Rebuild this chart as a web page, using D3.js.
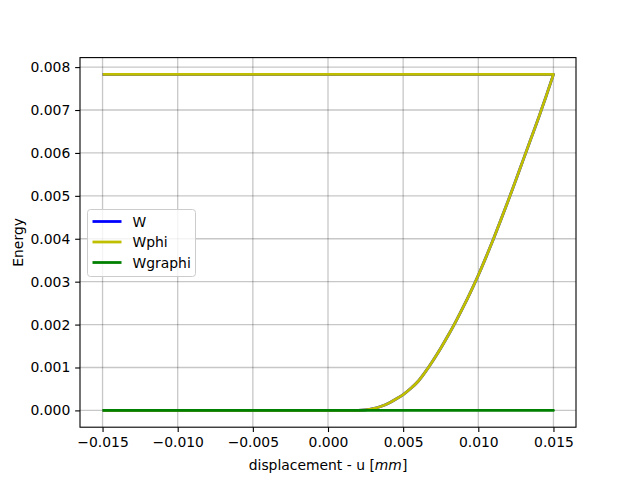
<!DOCTYPE html>
<html lang="en">
<head>
  <meta charset="UTF-8">
  <title>Energy vs displacement</title>
  <script src="https://d3js.org/d3.v7.min.js"></script>
  <style>
    body { margin: 0; background: white; }
    svg { display: block; font-family: "DejaVu Sans", sans-serif; }
    .tick text { font-size: 13.9px; fill: #000; }
    .grid line { stroke: #000; stroke-opacity: 0.22; stroke-width: 1.3px; }
    path.series { fill: none; stroke-width: 2.78px; stroke-linejoin: round; }
  </style>
</head>
<body>
<svg width="640" height="480"></svg>
<script>
// values
const uLoad = [-0.015, -0.010, -0.005, 0.000, 0.001, 0.0015, 0.002, 0.0025, 0.003, 0.0035, 0.004, 0.0045,
  0.005, 0.0055, 0.006, 0.0065, 0.007, 0.0075, 0.008, 0.0085, 0.009, 0.0095, 0.010,
  0.0105, 0.011, 0.0115, 0.012, 0.0125, 0.013, 0.0135, 0.014, 0.0145, 0.015];
const wLoad = [0, 0, 0, 0, 0, 0, 0.000002, 0.000012, 0.00004, 0.00009, 0.00016, 0.00026,
  0.00037, 0.00051, 0.00068, 0.00091, 0.00117, 0.00145, 0.00175, 0.00207, 0.00241, 0.00277, 0.00315,
  0.00356, 0.00399, 0.00444, 0.0049, 0.00537, 0.00585, 0.00633, 0.00681, 0.00731, 0.00783];
// unloading branch: back along the top
const uBack = [0.015, -0.015];
const wBack = [0.00783, 0.00783];
const wphiLoad = wLoad.slice();   // Wphi sits right on top of W
const wgraphiLoad = uLoad.map(() => 0);
const wgraphiBack = [0, 0];

const xTicks = [-0.015, -0.010, -0.005, 0.000, 0.005, 0.010, 0.015];
const yTicks = [0, 0.001, 0.002, 0.003, 0.004, 0.005, 0.006, 0.007, 0.008];

const seriesNames = ['W', 'Wphi', 'Wgraphi'];
const seriesColors = ['#0000ff', '#bfbf00', '#008000'];

const mLeft = 80, mRight = 576, mTop = 57.6, mBottom = 427.2;

const svg = d3.select('svg');

const x = d3.scaleLinear().domain([-0.0165, 0.0165]).range([mLeft, mRight]);
const y = d3.scaleLinear().domain([-0.0003915, 0.0082215]).range([mBottom, mTop]);

const fmtX = d => d3.format('.3f')(d).replace('-', '\u2212');
const fmtY = d => d3.format('.3f')(d);

// grid
const grid = svg.append('g').attr('class', 'grid');
grid.selectAll('line.v').data(xTicks).enter().append('line')
  .attr('x1', d => x(d)).attr('x2', d => x(d)).attr('y1', mTop).attr('y2', mBottom);
grid.selectAll('line.h').data(yTicks).enter().append('line')
  .attr('x1', mLeft).attr('x2', mRight).attr('y1', d => y(d)).attr('y2', d => y(d));

// series: smooth loading branch, straight unloading branch
const pts = (us, ws) => us.map((u, i) => [u, ws[i]]);
const loadLine = d3.line().x(d => x(d[0])).y(d => y(d[1])).curve(d3.curveMonotoneX);
const series = [
  [pts(uLoad, wLoad), pts(uBack, wBack)],
  [pts(uLoad, wphiLoad), pts(uBack, wBack)],
  [pts(uLoad, wgraphiLoad), pts(uBack, wgraphiBack)]
];
svg.append('g').selectAll('path').data(series).enter().append('path')
  .attr('class', 'series')
  .attr('stroke', (d, i) => seriesColors[i])
  .attr('d', d => loadLine(d[0]) + d[1].map(p => `L${x(p[0])},${y(p[1])}`).join(''));

// axes
const xAxis = svg.append('g').attr('transform', `translate(0,${mBottom})`)
  .call(d3.axisBottom(x).tickValues(xTicks).tickFormat(fmtX).tickSize(4.86).tickPadding(4.9));
const yAxis = svg.append('g').attr('transform', `translate(${mLeft},0)`)
  .call(d3.axisLeft(y).tickValues(yTicks).tickFormat(fmtY).tickSize(4.86).tickPadding(4.9));
[xAxis, yAxis].forEach(a => {
  a.select('.domain').remove();
  a.selectAll('.tick line').attr('stroke', '#000').attr('stroke-width', 1.1);
  a.attr('font-family', null).attr('font-size', null);
});

// frame
svg.append('rect')
  .attr('x', mLeft).attr('y', mTop)
  .attr('width', mRight - mLeft).attr('height', mBottom - mTop)
  .attr('fill', 'none').attr('stroke', '#000').attr('stroke-width', 1.1);

// labels
const xl = svg.append('text')
  .attr('x', (mLeft + mRight) / 2).attr('y', 469.5)
  .attr('text-anchor', 'middle').attr('font-size', '13.9px');
xl.append('tspan').text('displacement - u [');
xl.append('tspan').attr('font-style', 'italic').text('mm');
xl.append('tspan').text(']');

svg.append('text')
  .attr('transform', `translate(22.5,${(mTop + mBottom) / 2}) rotate(-90)`)
  .attr('text-anchor', 'middle').attr('font-size', '13.9px')
  .text('Energy');

// legend
const lg = svg.append('g');
lg.append('rect')
  .attr('x', 87.5).attr('y', 209.5).attr('width', 108).attr('height', 67)
  .attr('rx', 3).attr('fill', 'white').attr('fill-opacity', 0.8)
  .attr('stroke', '#cccccc').attr('stroke-width', 1);
const rowY = i => 221.5 + i * 20.5;
lg.selectAll('line').data(seriesNames).enter().append('line')
  .attr('x1', 92.5).attr('x2', 121.5)
  .attr('y1', (d, i) => rowY(i)).attr('y2', (d, i) => rowY(i))
  .attr('stroke', (d, i) => seriesColors[i]).attr('stroke-width', 2.78);
lg.selectAll('text').data(seriesNames).enter().append('text')
  .attr('x', 132.5).attr('y', (d, i) => rowY(i) + 5)
  .attr('font-size', '13.9px')
  .text(d => d);
</script>
</body>
</html>
